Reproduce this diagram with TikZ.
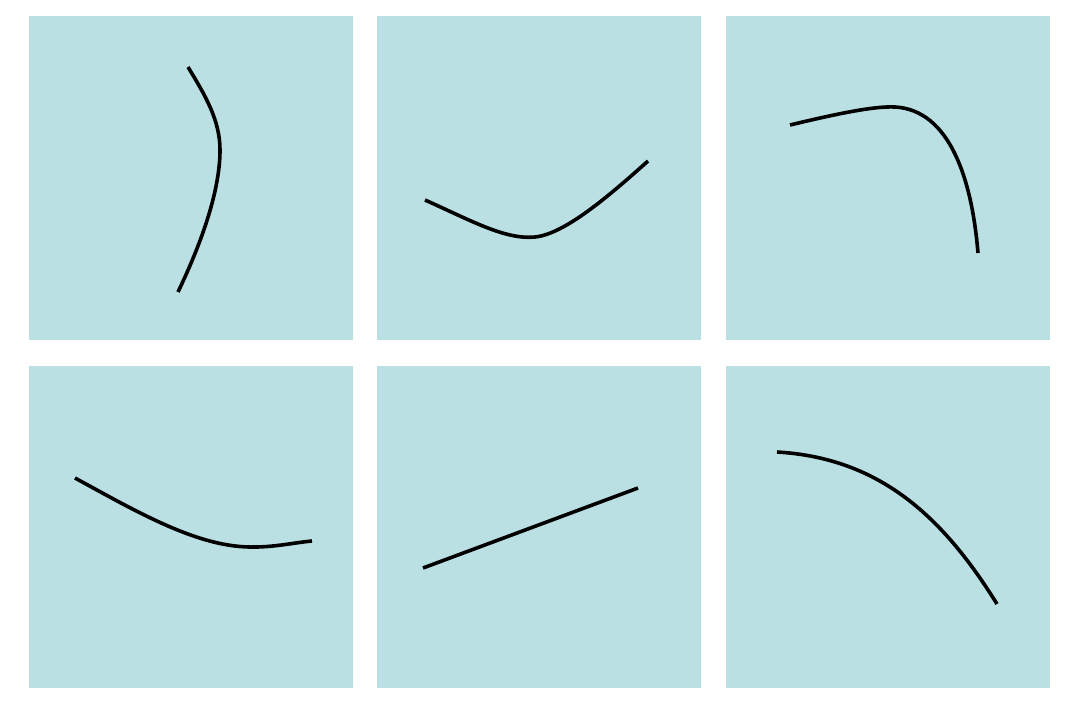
\documentclass[tikz,border=0pt]{standalone}
\usepackage{tikz}
\definecolor{panelteal}{HTML}{BBE0E3}

\begin{document}
\begin{tikzpicture}[x=1pt, y=-1pt,
    panel/.style={fill=panelteal, draw=none},
    curve/.style={line width=3.6pt, black}]
    % Page frame
    \useasboundingbox (0, 0) rectangle (1080, 710);
    
    % Draw the six panels
    \foreach \px in {29, 377, 726} {
        \fill[panel] (\px, 16) rectangle ++(324, 324);
        \fill[panel] (\px, 366) rectangle ++(324, 322);
    }
    
    % Top row curves
    \draw[curve] (188, 67) .. controls (205, 95) and (220, 120) .. (220, 150)
        .. controls (220, 180) and (210, 225) .. (178, 292);
    \draw[curve] (425, 200) .. controls (470, 220) and (505, 240) .. (535, 237)
        .. controls (565, 234) and (610, 195) .. (648, 161);
    \draw[curve] (790, 125) .. controls (840, 113) and (875, 106) .. (895, 107)
        .. controls (950, 110) and (972, 180) .. (978, 253);
    
    % Bottom row curves
    \draw[curve] (75, 478) .. controls (130, 508) and (185, 540) .. (235, 546)
        .. controls (265, 549.6) and (290, 543) .. (312, 541);
    \draw[curve] (423, 568) -- (638, 488);
    \draw[curve] (777, 452) .. controls (880, 458) and (943, 517) .. (997, 604);
\end{tikzpicture}
\end{document}
